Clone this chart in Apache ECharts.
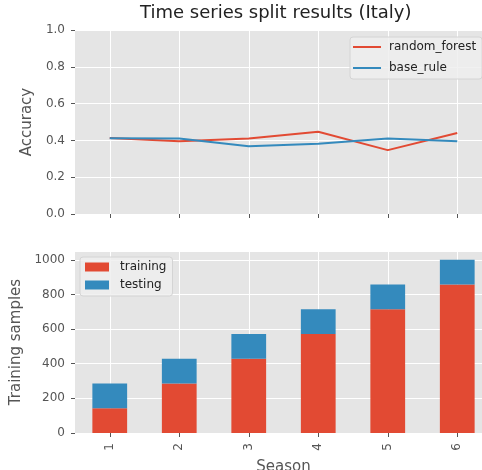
<!DOCTYPE html>
<html>
<head>
<meta charset="utf-8">
<script src="https://cdn.jsdelivr.net/npm/echarts@6/dist/echarts.min.js"></script>
<style>
  html, body { margin: 0; padding: 0; background: #fff; }
  #chart { width: 482px; height: 470px; }
</style>
</head>
<body>
<div id="chart"></div>
<script>
// Seasons used as the shared x categories
const seasons = ['1', '2', '3', '4', '5', '6'];

// Accuracy per season (top panel)
const randomForest = [0.413, 0.396, 0.410, 0.447, 0.347, 0.440];
const baseRule = [0.412, 0.410, 0.368, 0.382, 0.410, 0.396];

// Sample counts per season (bottom panel, stacked)
const training = [143, 286, 429, 572, 715, 858];
const testing = [143, 143, 143, 143, 143, 143];

const accuracyTicks = [0, 0.2, 0.4, 0.6, 0.8, 1.0];
const sampleTicks = [0, 200, 400, 600, 800, 1000];

const RED = '#E24A33';
const BLUE = '#348ABD';
const PANEL = '#E5E5E5';
const TICK = '#555555';
const FONT = 'DejaVu Sans';

const chart = echarts.init(document.getElementById('chart'), null, { renderer: 'canvas' });

const commonCategory = {
  type: 'category',
  data: seasons,
  boundaryGap: true,
  axisLine: { show: false },
  axisTick: { show: true, alignWithLabel: true, length: 4, lineStyle: { color: TICK, width: 1 } },
  splitLine: { show: true, alignWithLabel: true, lineStyle: { color: '#ffffff', width: 1 } }
};

chart.setOption({
  animation: false,
  backgroundColor: '#ffffff',
  textStyle: { fontFamily: FONT },
  title: {
    text: 'Time series split results (Italy)',
    left: 140,
    top: 4,
    padding: 0,
    textStyle: { fontFamily: FONT, fontSize: 18, fontWeight: 'normal', color: '#222222' }
  },
  legend: [
    {
      data: ['random_forest', 'base_rule'],
      orient: 'vertical',
      left: 350,
      top: 37,
      padding: [3, 6, 4, 3],
      itemGap: 7,
      itemWidth: 28,
      itemHeight: 2,
      icon: 'rect',
      backgroundColor: 'rgba(238,238,238,0.85)',
      borderColor: '#d4d4d4',
      borderWidth: 1,
      borderRadius: 3,
      textStyle: { fontFamily: FONT, fontSize: 12, color: '#222222', padding: [0, 0, 0, 3], lineHeight: 14 }
    },
    {
      data: ['training', 'testing'],
      orient: 'vertical',
      left: 80,
      top: 257,
      padding: [3, 6, 4, 5],
      itemGap: 4,
      itemWidth: 24,
      itemHeight: 9,
      icon: 'rect',
      backgroundColor: 'rgba(238,238,238,0.85)',
      borderColor: '#d4d4d4',
      borderWidth: 1,
      borderRadius: 3,
      textStyle: { fontFamily: FONT, fontSize: 12, color: '#222222', padding: [0, 0, 0, 6], lineHeight: 14 }
    }
  ],
  grid: [
    { left: 75, top: 30, width: 417, height: 184, outerBoundsMode: 'none', containLabel: false,
      backgroundColor: PANEL, show: true, borderWidth: 0 },
    { left: 75, top: 251, width: 417, height: 182, outerBoundsMode: 'none', containLabel: false,
      backgroundColor: PANEL, show: true, borderWidth: 0 }
  ],
  xAxis: [
    Object.assign({}, commonCategory, {
      gridIndex: 0,
      axisLabel: { show: false }
    }),
    Object.assign({}, commonCategory, {
      gridIndex: 1,
      name: 'Season',
      nameLocation: 'middle',
      nameGap: 27,
      nameTextStyle: { fontFamily: FONT, fontSize: 15, color: TICK },
      axisLabel: { rotate: 90, fontFamily: FONT, fontSize: 12, color: TICK, margin: 10 }
    })
  ],
  yAxis: [
    {
      type: 'value',
      gridIndex: 0,
      min: 0,
      max: 1,
      interval: 0.2,
      name: 'Accuracy',
      nameLocation: 'middle',
      nameGap: 31,
      nameTextStyle: { fontFamily: FONT, fontSize: 15, color: TICK },
      axisLine: { show: false },
      axisTick: { show: true, length: 4, lineStyle: { color: TICK } },
      axisLabel: {
        fontFamily: FONT, fontSize: 12, color: TICK, margin: 10,
        formatter: v => accuracyTicks.some(t => Math.abs(t - v) < 1e-9) ? v.toFixed(1) : ''
      },
      splitLine: { show: true, lineStyle: { color: '#ffffff', width: 1 } }
    },
    {
      type: 'value',
      gridIndex: 1,
      min: 0,
      max: 1051,
      interval: 200,
      name: 'Training samples',
      nameLocation: 'middle',
      nameGap: 43,
      nameTextStyle: { fontFamily: FONT, fontSize: 15, color: TICK },
      axisLine: { show: false },
      axisTick: { show: true, length: 4, lineStyle: { color: TICK } },
      axisLabel: {
        fontFamily: FONT, fontSize: 12, color: TICK, margin: 10, showMaxLabel: false,
        formatter: v => sampleTicks.indexOf(v) >= 0 ? String(v) : ''
      },
      splitLine: { show: true, lineStyle: { color: '#ffffff', width: 1 } }
    }
  ],
  series: [
    {
      name: 'random_forest',
      type: 'line',
      xAxisIndex: 0,
      yAxisIndex: 0,
      data: randomForest,
      showSymbol: false,
      symbol: 'none',
      lineStyle: { color: RED, width: 2 },
      itemStyle: { color: RED }
    },
    {
      name: 'base_rule',
      type: 'line',
      xAxisIndex: 0,
      yAxisIndex: 0,
      data: baseRule,
      showSymbol: false,
      symbol: 'none',
      lineStyle: { color: BLUE, width: 2 },
      itemStyle: { color: BLUE }
    },
    {
      name: 'training',
      type: 'bar',
      xAxisIndex: 1,
      yAxisIndex: 1,
      stack: 'samples',
      barWidth: '50%',
      data: training,
      itemStyle: { color: RED }
    },
    {
      name: 'testing',
      type: 'bar',
      xAxisIndex: 1,
      yAxisIndex: 1,
      stack: 'samples',
      barWidth: '50%',
      data: testing,
      itemStyle: { color: BLUE }
    }
  ]
});
</script>
</body>
</html>
